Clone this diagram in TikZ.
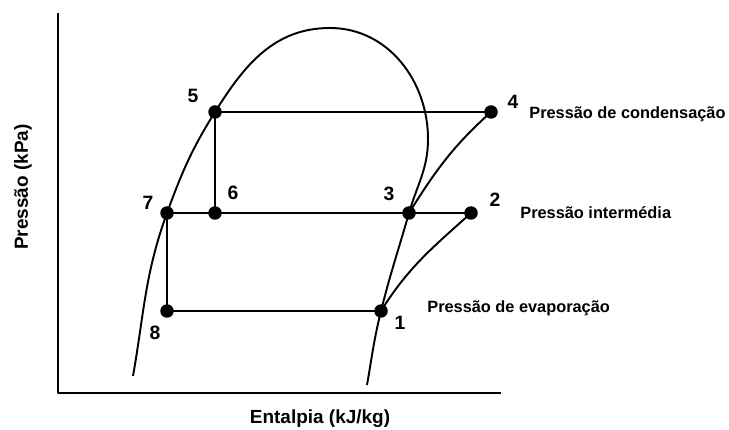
\documentclass[tikz,border=0pt]{standalone}
\usepackage{fontspec}
\setmainfont{Liberation Sans}
\tikzset{
  dot/.style={circle,fill=black,inner sep=0pt,minimum size=0.27cm},
  num/.style={font=\fontsize{11}{13}\selectfont\bfseries},
  press/.style={font=\fontsize{9.3}{11}\selectfont\bfseries,anchor=west,inner sep=0pt},
  axlabel/.style={font=\fontsize{10.8}{13}\selectfont\bfseries},
}
\begin{document}
\begin{tikzpicture}[x=0.02cm,y=0.02cm,line join=round]
\useasboundingbox (0,0) rectangle (729,429);

\draw[line width=1.4pt] (58,416) -- (58,36) -- (501,36);
\node[axlabel] (xlab) at (320,10) {Entalpia (kJ/kg)};
\node[axlabel,rotate=90] (ylab) at (23,242) {Pressão (kPa)};

\node[dot] (p5) at (215,317) {};
\node[dot] (p4) at (491,317) {};
\node[dot] (p7) at (167,216) {};
\node[dot] (p6) at (215,216) {};
\node[dot] (p3) at (409,216) {};
\node[dot] (p2) at (471,216) {};
\node[dot] (p8) at (167,118) {};
\node[dot] (p1) at (381,118) {};
\coordinate (low) at (133,53);
\coordinate (top) at (330,401);
\coordinate (rgt) at (428,290);
\coordinate (high) at (367,44);

\draw[line width=1.1pt] (low) to[out=80,in=250] (p7.center)
  to[out=70,in=238] (p5.center) to[out=58,in=180] (top)
  to[out=0,in=90] (rgt) to[out=-90,in=74] (p3.center)
  to[out=254,in=76] (p1.center) to[out=256,in=80] (high);

\draw[line width=1.4pt] (p5.center) -- (p4.center);
\draw[line width=1.4pt] (p5.center) -- (p6.center);
\draw[line width=1.4pt] (p7.center) -- (p2.center);
\draw[line width=1.4pt] (p7.center) -- (p8.center);
\draw[line width=1.4pt] (p8.center) -- (p1.center);
\draw[line width=1.1pt] (p3.center) to[out=58,in=222] (p4.center);
\draw[line width=1.1pt] (p1.center) to[out=58,in=222] (p2.center);

\node[num] (l5) at (193,333) {5};
\node[num] (l4) at (513,327) {4};
\node[num] (l7) at (148,226) {7};
\node[num] (l6) at (233,236) {6};
\node[num] (l3) at (389,235) {3};
\node[num] (l2) at (495,229) {2};
\node[num] (l8) at (155,96) {8};
\node[num] (l1) at (400,106) {1};

\node[press] (cond) at (529,315) {Pressão de condensação};
\node[press] (inter) at (520,216) {Pressão intermédia};
\node[press] (evap) at (427,121) {Pressão de evaporação};
\end{tikzpicture}
\end{document}
